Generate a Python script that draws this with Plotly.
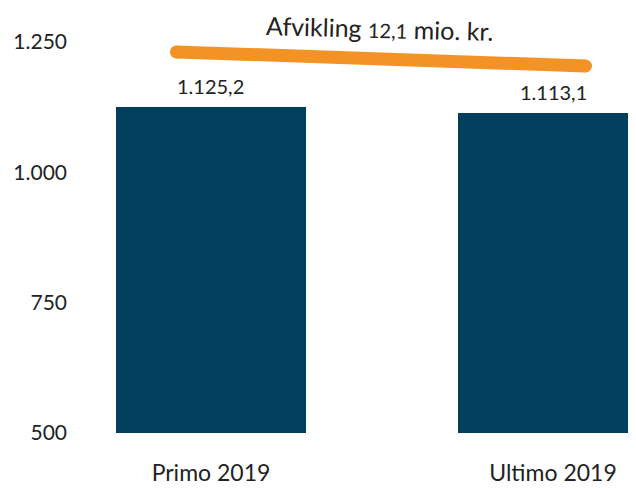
import plotly.graph_objects as go

categories = ["Primo 2019", "Ultimo 2019"]
values = [1125.2, 1113.1]
y_ticks = [500, 750, 1000, 1250]
annotation_text = "Afvikling <span style='font-size:20px'>12,1</span> mio. kr."

BAR_COLOR = "#023F5D"
LINE_COLOR = "#F39325"
TEXT_COLOR = "#222222"
FONT = "Lato"


def fmt_da(v):
    s = f"{v:,.1f}"
    return s.replace(",", "X").replace(".", ",").replace("X", ".")


fig = go.Figure()

fig.add_trace(go.Bar(
    x=[0, 1],
    y=values,
    width=0.556,
    marker=dict(color=BAR_COLOR, line=dict(width=0)),
    hoverinfo="skip",
))

for i, v in enumerate(values):
    fig.add_annotation(
        x=i, y=v, xref="x", yref="y",
        text=fmt_da(v), showarrow=False,
        yanchor="bottom", yshift=7,
        font=dict(family=FONT, size=20, color=TEXT_COLOR),
    )

# decorative difference indicator line
line_x = [-0.101, 1.095]
line_y = [1231, 1204]
fig.add_trace(go.Scatter(
    x=line_x, y=line_y, mode="lines+markers",
    line=dict(color=LINE_COLOR, width=13),
    marker=dict(color=LINE_COLOR, size=13, line=dict(width=0)),
    hoverinfo="skip", cliponaxis=False,
))

fig.add_annotation(
    x=0.494, y=1277, xref="x", yref="y",
    text=annotation_text, showarrow=False, textangle=1.5,
    font=dict(family=FONT, size=25, color=TEXT_COLOR),
)

fig.update_layout(
    width=628, height=481,
    margin=dict(l=72, r=0, t=2, b=56),
    paper_bgcolor="white", plot_bgcolor="white",
    showlegend=False,
    separators=",.",
    bargap=0,
    font=dict(family=FONT, color=TEXT_COLOR),
)

fig.update_xaxes(
    range=[-0.383, 1.2427],
    tickvals=[0, 1], ticktext=categories,
    showgrid=False, zeroline=False, showline=False, ticks="",
    tickfont=dict(family=FONT, size=23, color=TEXT_COLOR),
    ticklabelstandoff=24, automargin=False,
)
fig.update_yaxes(
    range=[500, 1311.4],
    tickvals=y_ticks, tickformat=",d",
    showgrid=False, zeroline=False, showline=False, ticks="",
    tickfont=dict(family=FONT, size=21, color=TEXT_COLOR),
    ticklabelstandoff=12, automargin=False,
)

fig.write_html("out.html")
